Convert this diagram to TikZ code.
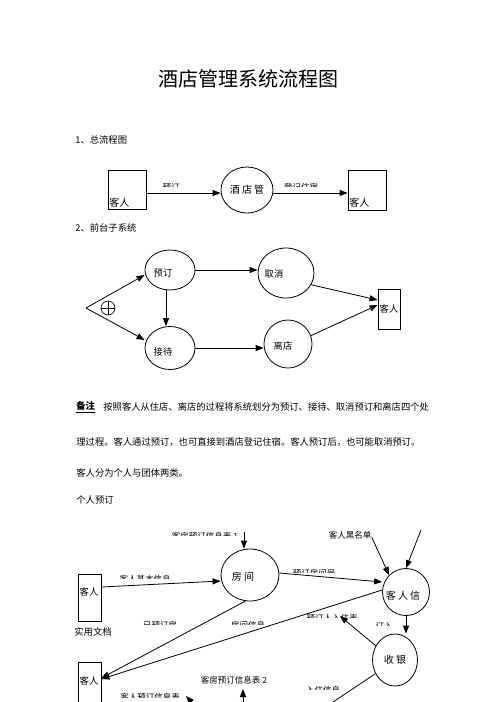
\documentclass[tikz,border=0pt]{standalone}
\usepackage{fontspec}
\setmainfont{Noto Sans CJK SC}
\usetikzlibrary{arrows.meta,shapes.geometric}
\newcommand{\fs}[1]{\fontsize{#1}{#1}\selectfont}
\begin{document}
\begin{tikzpicture}[x=1pt,y=-1pt,line width=0.8pt,
  tip/.style={-{Triangle[length=8pt,width=6pt]}},
  ell/.style={draw,ellipse,inner sep=0pt},
  box/.style={draw,rectangle,inner sep=0pt},
  txt/.style={inner sep=0pt,font=\fs{9.3}},
  lbl/.style={inner sep=0pt,font=\fs{8.5}}]
\useasboundingbox (0,0) rectangle (496,702);
% title
\node[inner sep=0pt,font=\fs{20}] (title) at (248,79) {酒店管理系统流程图};
\node[txt,anchor=west] (h1) at (75,140) {1、总流程图};
% overview
\node[box,minimum width=38,minimum height=39] (g1) at (127,190) {};
\node[inner sep=0pt,font=\fs{10},anchor=south west] (g1t) at (109,208) {客人};
\node[ell,minimum width=52,minimum height=46,font=\fs{10}] (hotel) at (247,190) {酒 店 管};
\node[box,minimum width=38,minimum height=40] (g2) at (367,190) {};
\node[inner sep=0pt,font=\fs{10},anchor=south west] (g2t) at (349,208) {客人};
\draw[tip] (g1.east |- 0,193) coordinate (a1) -- (hotel.west |- 0,193);
\draw[tip] (hotel.east |- 0,193) -- (g2.west |- 0,193);
\begin{scope}\clip (150,180) rectangle (200,186.5);
\node[lbl] (l1) at (171,187) {预订};\end{scope}
\begin{scope}\clip (270,180) rectangle (330,186.5);
\node[lbl] (l2) at (301,187) {登记住宿};\end{scope}
% front desk
\node[txt,anchor=west] (h2) at (75,228) {2、前台子系统};
\node[ell,minimum width=50,minimum height=40] (yd) at (170,270) {};
\node[txt] (ydt) at (163,273) {预订};
\node[ell,minimum width=56,minimum height=50] (qx) at (286,273) {};
\node[txt] (qxt) at (274,274) {取消};
\node[ell,minimum width=50,minimum height=43] (jd) at (170,348) {};
\node[txt] (jdt) at (163,352) {接待};
\node[ell,minimum width=48,minimum height=48] (ld) at (288,344) {};
\node[txt] (ldt) at (283,346) {离店};
\node[box,minimum width=22,minimum height=40,font=\fs{9.3}] (kr) at (389,309) {客人};
\coordinate (br) at (86,308);
\draw[tip] (br) -- (yd.west |- 0,275);
\draw[tip] (br) -- (jd.west |- 0,340);
\node[draw,circle,minimum size=14,inner sep=0pt,line width=0.6pt] (oplus) at (108,308) {};
\draw[line width=0.6pt] (oplus.north) -- (oplus.south) (oplus.west) -- (oplus.east);
\draw[tip] (yd.south) ++(-4,0) coordinate (ydb) -- (ydb |- jd.north);
\draw[tip] (yd.east) -- (qx.west |- yd.east);
\draw[tip] (jd.east) -- (ld.west |- jd.east);
\draw[tip] (qx.-25) -- (kr.west |- 0,300);
\draw[tip] (ld.20) -- (kr.west |- 0,305);
% note
\node[inner sep=0pt,font=\fs{9.3}\bfseries\itshape,anchor=west] (bz) at (76,407) {\underline{备注}};
\node[txt,anchor=west] (n1) at (103,407) {按照客人从住店、离店的过程将系统划分为预订、接待、取消预订和离店四个处};
\node[txt,anchor=west] (n2) at (76,442) {理过程。客人通过预订，也可直接到酒店登记住宿。客人预订后，也可能取消预订。};
\node[txt,anchor=west] (n3) at (76,473) {客人分为个人与团体两类。};
\node[txt,anchor=west] (n4) at (76,500) {个人预订};
% individual booking
\node[ell,minimum width=58,minimum height=52] (fj) at (250,575) {};
\node[inner sep=0pt,font=\fs{10}] (fjt) at (243,577) {房 间};
\node[box,minimum width=23,minimum height=47] (k1) at (89.5,597.5) {};
\node[inner sep=0pt,font=\fs{9.3}] (k1t) at (89,592) {客人};
\node[txt] (syd) at (93,632) {实用文档};
\node[box,minimum width=23,minimum height=50,anchor=north] (k2) at (89.5,662) {};
\node[inner sep=0pt,font=\fs{9.3}] (k2t) at (89,681) {客人};
\node[ell,minimum width=47,minimum height=47] (krx) at (406,592) {};
\node[inner sep=0pt,font=\fs{10}] (krxt) at (403,596) {客 人 信};
\node[ell,minimum width=45,minimum height=52] (sy) at (395,660) {};
\node[inner sep=0pt,font=\fs{10}] (syt) at (395,660) {收 银};
\node[lbl] (hmd) at (350,535) {客人黑名单};
\node[lbl] (b2) at (234,680) {客房预订信息表 2};
% connectors
\coordinate (t1) at (244,532);
\draw[tip] (t1) -- (t1 |- fj.north);
\draw[tip] (k1.east |- 0,587) -- (fj.west |- 0,581);
\draw[tip] (fj.-100) -- (k2.east |- 0,678);
\draw[tip] (krx.west |- 0,590) -- (k2.east |- 0,679);
\draw[tip] (fj.east |- 0,573) -- (krx.west |- 0,582);
\draw[tip] (hmd.east |- 0,537) -- (krx.north west);
\coordinate (t2) at (421,530);
\draw[tip] (t2) -- (krx.north);
\draw[tip] (krx.south) -- (sy.north -| krx.south);
\coordinate (p1) at (340,616);
\draw[tip] (sy.west |- 0,646) ++(4,0) -- (p1);
\coordinate (p2) at (330,704);
\draw (sy.-145) -- (p2);
\coordinate (b2a) at (243,704);
\draw[tip] (b2a) -- (243,689);
\coordinate (c1) at (197,708);
\draw[tip] (c1) -- (186,696);
% clipped labels
\begin{scope}\clip (160,528) rectangle (250,535.5);
\node[lbl] (l3) at (205,536) {客房预订信息表 1};\end{scope}
\begin{scope}\clip (110,572) rectangle (180,578.5);
\node[lbl] (l4) at (145,579) {客人基本信息};\end{scope}
\begin{scope}\clip (285,566) rectangle (345,572.5);
\node[lbl] (l5) at (314,573) {预订房间号};\end{scope}
\begin{scope}\clip (135,618) rectangle (185,624.5);
\node[lbl] (l6) at (160,625) {已预订房};\end{scope}
\begin{scope}\clip (228,618) rectangle (268,624.5);
\node[lbl] (l7) at (248,625) {房间信息};\end{scope}
\begin{scope}\clip (300,611) rectangle (365,617.5);
\node[lbl] (l8) at (332,618) {预订人入住表};\end{scope}
\begin{scope}\clip (370,619) rectangle (398,625.5);
\node[lbl] (l9) at (384,626) {订入};\end{scope}
\begin{scope}\clip (300,683) rectangle (350,689.5);
\node[lbl] (l10) at (323,690) {入住信息};\end{scope}
\begin{scope}\clip (110,690) rectangle (190,697.5);
\node[lbl] (l11) at (150,697) {客人预订信息表};\end{scope}
\end{tikzpicture}
\end{document}
